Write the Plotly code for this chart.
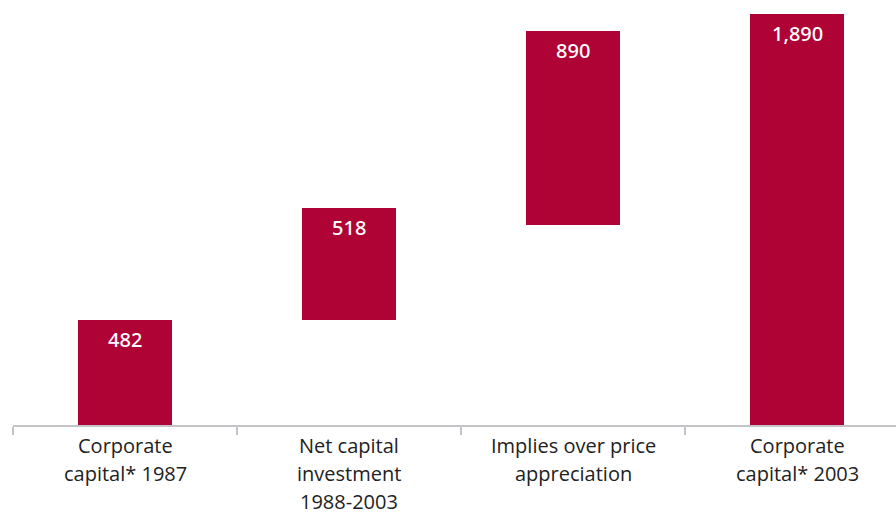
import plotly.graph_objects as go

categories = ["Corporate capital* 1987", "Net capital investment 1988-2003",
              "Implies over price appreciation", "Corporate capital* 2003"]
label_lines = [["Corporate", "capital* 1987"],
               ["Net capital", "investment", "1988-2003"],
               ["Implies over price", "appreciation"],
               ["Corporate", "capital* 2003"]]
values = [482, 518, 890, 1890]
bases = [0, 482, 920, 0]
value_labels = ["482", "518", "890", "1,890"]

BAR = "#B00335"
FONT = "Open Sans, Noto Sans, sans-serif"

fig = go.Figure()
fig.add_trace(go.Bar(
    x=categories, y=values, base=bases,
    marker=dict(color=BAR, line=dict(width=0)), width=0.42,
    hoverinfo="skip",
))
for c, v, b, t in zip(categories, values, bases, value_labels):
    fig.add_annotation(x=c, y=v + b, text=t, showarrow=False, yanchor="top", yshift=-4,
                       font=dict(color="white", size=20, family="Noto Sans, Open Sans, sans-serif", weight=500))
for c, lines in zip(categories, label_lines):
    for k, line in enumerate(lines):
        fig.add_annotation(x=c, xref="x", y=0, yref="paper", text=line, showarrow=False,
                           yanchor="middle", yshift=-(20.5 + 28 * k),
                           font=dict(color="#222222", size=20, family=FONT))

fig.update_layout(
    width=896, height=515, margin=dict(l=13, r=0, t=0, b=90, autoexpand=False),
    plot_bgcolor="white", paper_bgcolor="white", showlegend=False, bargap=0,
)
fig.update_xaxes(
    type="category", range=[-0.5, 3.5 - 13 / 224], automargin=False,
    tickson="boundaries", ticks="outside", ticklen=8, tickcolor="#c4c4c8", tickwidth=2,
    showline=True, linecolor="#c4c4c8", linewidth=2, showgrid=False, zeroline=False,
    showticklabels=False,
)
fig.update_yaxes(range=[0, 1954], visible=False, showgrid=False, zeroline=False, automargin=False)
fig.write_html("out.html")
